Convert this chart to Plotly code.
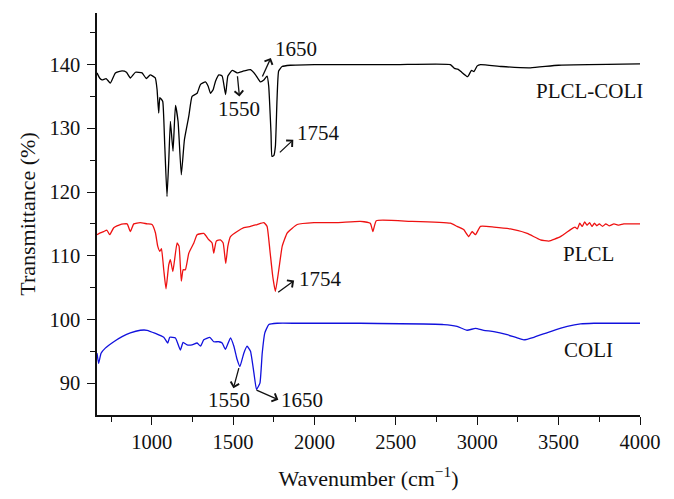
import plotly.graph_objects as go

# PLCL-COLI (black)
plclcoli_x = [664, 680, 695, 720, 746, 777, 818, 845, 869, 900, 941, 967, 991, 1022, 1033, 1043,
              1050, 1058, 1068, 1080, 1094, 1105, 1115, 1131, 1146, 1162, 1182, 1201, 1228, 1248,
              1279, 1300, 1330, 1347, 1361, 1378, 1392, 1413, 1433, 1454, 1468, 1495, 1525, 1566,
              1607, 1638, 1668, 1689, 1709, 1719, 1733, 1739, 1750, 1760, 1770, 1780, 1801, 1852,
              2000, 2500, 2835, 2860, 2880, 2900, 2941, 2965, 2980, 3000, 3020, 3150, 3327, 3500, 4000]
plclcoli_y = [138.7, 137.9, 137.6, 137.8, 137.1, 138.7, 139.0, 138.8, 137.9, 138.8, 138.7, 137.8, 138.4, 137.9, 136.1, 132.4,
              134.8, 134.6, 134.2, 127.5, 119.3, 125.0, 131.1, 126.4, 133.6, 131.1, 122.7, 128.2, 131.9, 135.0,
              135.5, 136.9, 137.3, 136.6, 135.5, 136.1, 137.4, 138.4, 138.2, 135.3, 138.2, 139.1, 138.7, 139.0,
              139.2, 138.4, 137.3, 137.6, 138.2, 136.6, 129.3, 125.6, 125.7, 127.2, 134.5, 139.0, 139.7, 139.9,
              140.0, 140.0, 140.0, 139.4, 139.3, 138.9, 138.1, 139.1, 138.9, 139.8, 140.0, 139.7, 139.5, 139.9, 140.1]

# PLCL (red)
plcl_x = [664, 684, 705, 725, 742, 767, 807, 849, 869, 890, 930, 972, 1002, 1023, 1037, 1050, 1060,
          1074, 1088, 1105, 1115, 1130, 1156, 1168, 1182, 1193, 1207, 1228, 1259, 1279, 1320, 1351,
          1371, 1381, 1397, 1422, 1439, 1455, 1468, 1484, 1525, 1566, 1607, 1648, 1689, 1709, 1726,
          1744, 1760, 1781, 1802, 1833, 1894, 1997, 2140, 2281, 2343, 2359, 2380, 2589, 2835, 2876,
          2917, 2948, 2968, 2989, 3020, 3102, 3204, 3307, 3388, 3440, 3511, 3573, 3600, 3615, 3630,
          3645, 3660, 3675, 3690, 3705, 3720, 3735, 3750, 3770, 3790, 3810, 3840, 3870, 3900, 3950, 4000]
plcl_y = [113.3, 113.6, 113.8, 114.0, 113.3, 114.4, 114.9, 115.0, 113.8, 115.0, 115.2, 115.0, 114.9, 113.6, 111.5, 110.7, 111.1,
          107.8, 104.8, 108.6, 109.4, 107.5, 112.0, 111.5, 106.0, 107.8, 107.8, 110.4, 112.0, 113.3, 113.5, 112.5,
          112.0, 110.4, 112.3, 112.5, 112.0, 108.8, 111.5, 113.0, 113.8, 114.4, 114.6, 114.9, 115.2, 114.6, 110.9,
          106.7, 104.4, 107.8, 111.5, 113.6, 114.9, 115.2, 115.2, 115.4, 115.1, 113.8, 115.5, 115.4, 115.1, 114.6,
          114.1, 113.0, 113.8, 113.3, 114.6, 114.5, 114.2, 113.5, 112.5, 112.3, 113.0, 114.1, 114.5, 114.2, 115.1,
          114.6, 115.3, 114.8, 115.2, 114.6, 115.1, 114.7, 115.0, 114.6, 115.0, 114.7, 115.0, 114.8, 115.0, 115.0, 115.0]

# COLI (blue)
coli_x = [664, 674, 689, 715, 767, 818, 869, 930, 972, 1023, 1074, 1099, 1111, 1146, 1176, 1193, 1217,
          1248, 1279, 1300, 1320, 1357, 1381, 1412, 1433, 1453, 1484, 1505, 1525, 1542, 1566, 1586,
          1607, 1628, 1644, 1665, 1679, 1695, 1720, 1771, 1894, 2140, 2281, 2794, 2876, 2938, 2989,
          3040, 3102, 3184, 3245, 3286, 3348, 3450, 3553, 3635, 3717, 4000]
coli_y = [94.7, 93.1, 94.7, 95.5, 96.5, 97.3, 97.9, 98.3, 98.3, 97.8, 97.2, 96.3, 97.2, 97.1, 95.2, 96.4, 96.0,
          96.0, 96.3, 95.8, 96.8, 97.2, 96.5, 96.5, 96.3, 95.3, 97.1, 95.8, 93.7, 92.6, 94.7, 95.8,
          95.0, 91.6, 89.0, 90.0, 94.7, 97.9, 99.2, 99.4, 99.4, 99.4, 99.4, 99.2, 98.9, 98.3, 98.6,
          98.3, 98.1, 97.6, 97.1, 96.8, 97.2, 98.1, 98.9, 99.3, 99.4, 99.4]

# Series labels
series_names = ["PLCL-COLI", "PLCL", "COLI"]
label_x = [3690, 3682, 3682]
label_y = [135.8, 110.2, 95.2]

# Peak annotations: text, text position, arrow head, arrow tail
peak_text = ["1650", "1550", "1754", "1754", "1550", "1650"]
peak_text_x = [1887, 1537, 2022, 2035, 1475, 1924]
peak_text_y = [142.4, 133.1, 129.3, 106.4, 87.4, 87.4]
arrow_head_x = [1732, 1539, 1870, 1875, 1502, 1778]
arrow_head_y = [141.05, 135.0, 128.2, 106.1, 89.2, 87.4]
arrow_tail_x = [1676, 1526, 1778, 1768, 1538, 1635]
arrow_tail_y = [137.9, 138.4, 126.0, 104.1, 92.6, 89.0]

FONT = "Liberation Serif, Times New Roman, serif"

fig = go.Figure()
for xs, ys, col, name in [(plclcoli_x, plclcoli_y, "#000000", series_names[0]),
                          (plcl_x, plcl_y, "#ee1111", series_names[1]),
                          (coli_x, coli_y, "#1111dd", series_names[2])]:
    fig.add_trace(go.Scatter(x=xs, y=ys, mode="lines", name=name,
                             line=dict(color=col, width=1.3, shape="spline", smoothing=0.4)))

annotations = []
for t, lx, ly in zip(series_names, label_x, label_y):
    annotations.append(dict(x=lx, y=ly, xref="x", yref="y", text=t, showarrow=False,
                            font=dict(family=FONT, size=21, color="#111")))
for t, tx, ty in zip(peak_text, peak_text_x, peak_text_y):
    annotations.append(dict(x=tx, y=ty, xref="x", yref="y", text=t, showarrow=False,
                            font=dict(family=FONT, size=21, color="#111")))
for hx, hy, tx, ty in zip(arrow_head_x, arrow_head_y, arrow_tail_x, arrow_tail_y):
    annotations.append(dict(x=hx, y=hy, xref="x", yref="y", ax=tx, ay=ty, axref="x", ayref="y",
                            text="", showarrow=True, arrowhead=4, arrowsize=1.3, arrowwidth=1.3,
                            arrowcolor="#111", standoff=0, startstandoff=0))

fig.update_layout(
    width=674, height=499,
    margin=dict(l=89, r=42, t=5, b=92),
    paper_bgcolor="white", plot_bgcolor="white",
    showlegend=False,
    font=dict(family=FONT, size=21, color="#111"),
    annotations=annotations,
    xaxis=dict(range=[664, 4000], tickvals=[1000, 1500, 2000, 2500, 3000, 3500, 4000],
               showgrid=False, zeroline=False, showline=True, linecolor="#111", linewidth=1.5,
               ticks="outside", ticklen=8, tickwidth=1.3, tickcolor="#111",
               minor=dict(tickvals=[750, 1250, 1750, 2250, 2750, 3250, 3750], ticks="outside",
                          ticklen=5, tickwidth=1.3, tickcolor="#111"),
               title=dict(text="Wavenumber (cm<sup>−1</sup>)", font=dict(family=FONT, size=22), standoff=18),
               tickfont=dict(family=FONT, size=20.5)),
    yaxis=dict(range=[85, 148.1], tickvals=[90, 100, 110, 120, 130, 140],
               showgrid=False, zeroline=False, showline=True, linecolor="#111", linewidth=1.5,
               ticks="outside", ticklen=8, tickwidth=1.3, tickcolor="#111",
               ticklabelstandoff=3,
               minor=dict(tickvals=[95, 105, 115, 125, 135, 145], ticks="outside",
                          ticklen=5, tickwidth=1.3, tickcolor="#111"),
               title=dict(text="Transmittance (%)", font=dict(family=FONT, size=22), standoff=8),
               tickfont=dict(family=FONT, size=20.5)),
)

fig.write_html("out.html")
